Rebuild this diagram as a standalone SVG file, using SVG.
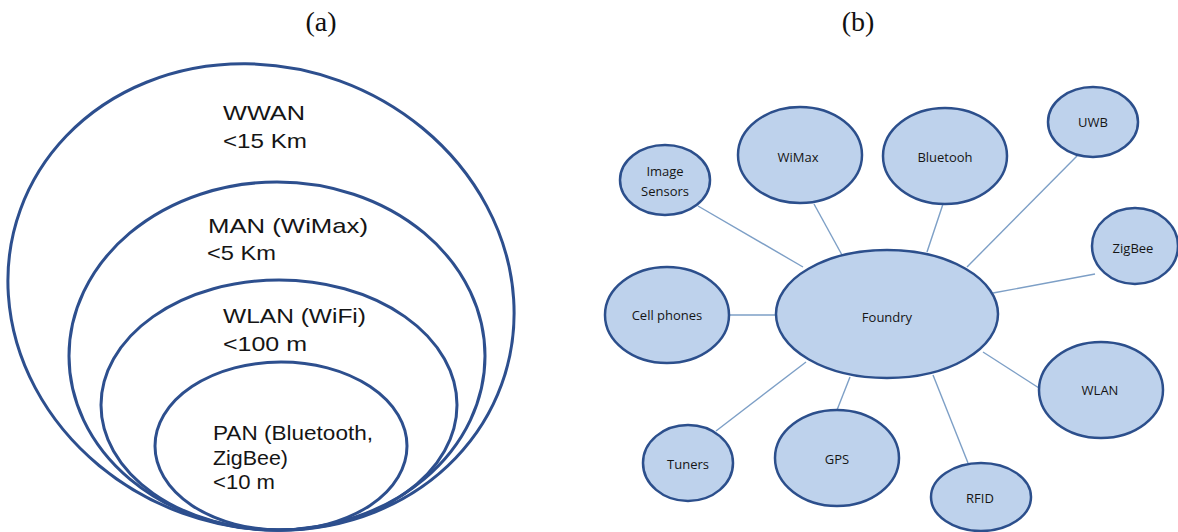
<svg xmlns="http://www.w3.org/2000/svg" width="1178" height="532" viewBox="0 0 1178 532">
<style>
.title{font-family:"Liberation Serif","Times New Roman",serif;font-size:28px;fill:#111;text-anchor:middle}
.ring{fill:none;stroke:#2d4f8e;stroke-width:3}
.rl{font-family:"Liberation Sans",Arial,sans-serif;font-size:21px;fill:#151515}
.node ellipse{fill:#bed2ec;stroke:#2c4f8c;stroke-width:2.5}
.node text{font-family:"Open Sans","Liberation Sans",sans-serif;font-size:13px;fill:#151515;text-anchor:middle}
.conn line{stroke:#7d9fc6;stroke-width:1.4}
</style>
<rect width="1178" height="532" fill="#ffffff"/>
<text class="title" x="321" y="31">(a)</text>
<text class="title" x="858" y="31">(b)</text>

<g id="wwan">
<ellipse class="ring" cx="261" cy="297" rx="256" ry="230" transform="rotate(20 261 297)"/>
<text class="rl" x="223" y="120" textLength="82" lengthAdjust="spacingAndGlyphs">WWAN</text>
<text class="rl" x="223" y="148" textLength="84" lengthAdjust="spacingAndGlyphs">&lt;15 Km</text>
</g>
<g id="man">
<ellipse class="ring" cx="277" cy="356" rx="208" ry="174"/>
<text class="rl" x="208" y="233" textLength="160" lengthAdjust="spacingAndGlyphs">MAN (WiMax)</text>
<text class="rl" x="207" y="260" textLength="69" lengthAdjust="spacingAndGlyphs">&lt;5 Km</text>
</g>
<g id="wlan-ring">
<ellipse class="ring" cx="279" cy="405" rx="178" ry="125"/>
<text class="rl" x="223" y="323" textLength="143" lengthAdjust="spacingAndGlyphs">WLAN (WiFi)</text>
<text class="rl" x="223" y="351" textLength="84" lengthAdjust="spacingAndGlyphs">&lt;100 m</text>
</g>
<g id="pan">
<ellipse class="ring" cx="281" cy="446" rx="126" ry="84"/>
<text class="rl" x="213" y="440" textLength="160" lengthAdjust="spacingAndGlyphs">PAN (Bluetooth,</text>
<text class="rl" x="213" y="465" textLength="75" lengthAdjust="spacingAndGlyphs">ZigBee)</text>
<text class="rl" x="213" y="489" textLength="62" lengthAdjust="spacingAndGlyphs">&lt;10 m</text>
</g>

<g id="connectors" class="conn">
<line x1="698" y1="206" x2="803" y2="267"/>
<line x1="814" y1="204" x2="842" y2="255"/>
<line x1="943" y1="204" x2="927" y2="252"/>
<line x1="1077" y1="156" x2="967" y2="267"/>
<line x1="1095" y1="274" x2="993" y2="293"/>
<line x1="729" y1="315" x2="776" y2="315"/>
<line x1="716" y1="431" x2="806" y2="362"/>
<line x1="837" y1="410" x2="850" y2="377"/>
<line x1="968" y1="463" x2="933" y2="375"/>
<line x1="1039" y1="388" x2="983" y2="352"/>
</g>

<g id="foundry" class="node"><ellipse cx="887" cy="314" rx="111" ry="64"/><text x="887" y="322">Foundry</text></g>
<g id="image-sensors" class="node"><ellipse cx="665" cy="180" rx="45" ry="35"/><text x="665" y="176">Image</text><text x="665" y="196">Sensors</text></g>
<g id="wimax" class="node"><ellipse cx="800" cy="155" rx="62" ry="48"/><text x="798" y="162">WiMax</text></g>
<g id="bluetooh" class="node"><ellipse cx="945" cy="156" rx="62" ry="48"/><text x="945" y="162">Bluetooh</text></g>
<g id="uwb" class="node"><ellipse cx="1093" cy="122" rx="45" ry="35"/><text x="1093" y="127">UWB</text></g>
<g id="zigbee" class="node"><ellipse cx="1135" cy="246" rx="43" ry="38"/><text x="1133" y="253">ZigBee</text></g>
<g id="cell-phones" class="node"><ellipse cx="667" cy="315" rx="62" ry="48"/><text x="667" y="320">Cell phones</text></g>
<g id="tuners" class="node"><ellipse cx="688" cy="463" rx="45" ry="38"/><text x="688" y="469">Tuners</text></g>
<g id="gps" class="node"><ellipse cx="837" cy="458" rx="62" ry="48"/><text x="837" y="464">GPS</text></g>
<g id="wlan" class="node"><ellipse cx="1101" cy="390" rx="62" ry="48"/><text x="1100" y="395">WLAN</text></g>
<g id="rfid" class="node"><ellipse cx="981" cy="497" rx="50" ry="34"/><text x="980" y="503">RFID</text></g>
</svg>
